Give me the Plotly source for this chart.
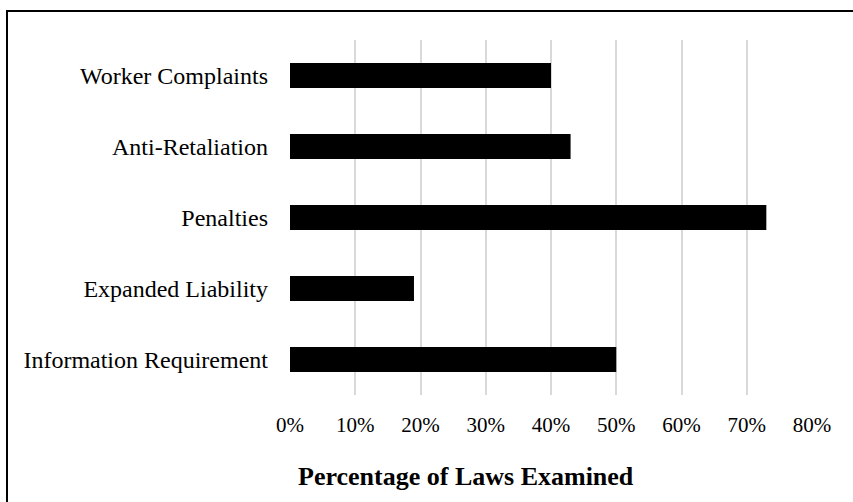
import plotly.graph_objects as go

categories = ["Information Requirement", "Expanded Liability", "Penalties", "Anti-Retaliation", "Worker Complaints"]
values = [0.50, 0.19, 0.73, 0.43, 0.40]
tick_vals = [0, 0.1, 0.2, 0.3, 0.4, 0.5, 0.6, 0.7, 0.8]
tick_text = ["0%", "10%", "20%", "30%", "40%", "50%", "60%", "70%", "80%"]
x_title = "Percentage of Laws Examined"

W, H = 853, 502
L, R, T, B = 290, 41, 40, 107
pw, ph = W - L - R, H - T - B

def px_x(p):
    return (p - L) / pw

def px_y(p):
    return (H - B - p) / ph

fig = go.Figure(go.Bar(
    x=values, y=categories, orientation="h",
    marker=dict(color="black", line=dict(width=0)),
    width=0.35,
))

fig.update_layout(
    width=W, height=H,
    margin=dict(l=L, r=R, t=T, b=B, autoexpand=False),
    paper_bgcolor="white", plot_bgcolor="white",
    font=dict(family="Liberation Serif, Times New Roman, serif", color="black"),
    showlegend=False,
    xaxis=dict(range=[0, 0.8], tickvals=tick_vals, ticktext=tick_text,
               showgrid=True, gridcolor="#d9d9d9", gridwidth=1.5,
               zeroline=False, showline=False, ticks="",
               tickfont=dict(size=21), ticklabelstandoff=15),
    yaxis=dict(showgrid=False, zeroline=False, showline=False, ticks="",
               tickfont=dict(size=24), ticklabelstandoff=21,
               range=[-0.5, 4.5]),
    shapes=[dict(type="rect", xref="paper", yref="paper",
                 x0=px_x(7), x1=px_x(870), y0=px_y(520), y1=px_y(11),
                 line=dict(color="black", width=2), layer="above")],
    annotations=[dict(text="<b>" + x_title + "</b>", xref="paper", yref="paper",
                      x=px_x(466), y=px_y(477), xanchor="center", yanchor="middle",
                      showarrow=False, font=dict(size=26, color="black"))],
)

fig.write_html("out.html", config={"displayModeBar": False},
               post_script="document.body.style.margin='0';document.body.style.overflow='hidden';")
